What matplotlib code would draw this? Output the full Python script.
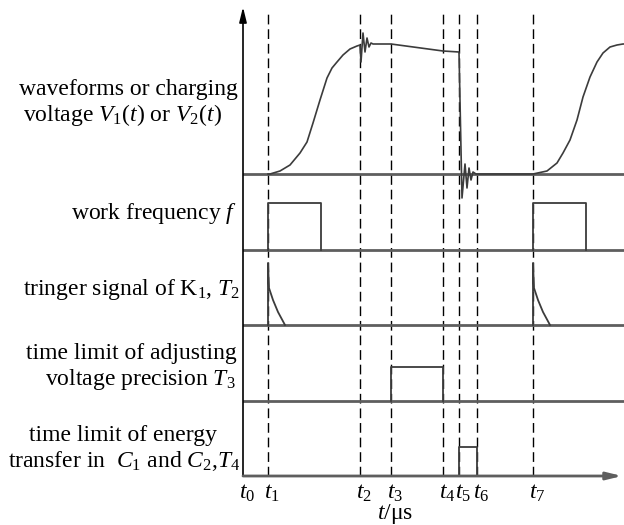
import matplotlib
matplotlib.use("Agg")
import matplotlib.pyplot as plt
import numpy as np

plt.rcParams['font.family'] = ['Liberation Serif', 'DejaVu Serif']
plt.rcParams['mathtext.fontset'] = 'custom'
plt.rcParams['mathtext.rm'] = 'Liberation Serif'
plt.rcParams['mathtext.it'] = 'Liberation Serif:italic'

# time marks t0..t7 (µs, arbitrary scale)
t_marks = [0, 25, 117, 148, 200, 216, 234, 290]
t_labels = [r'$t_0$', r'$t_1$', r'$t_2$', r'$t_3$', r'$t_4$', r'$t_5$', r'$t_6$', r'$t_7$']
t_end = 381

# row baselines (bottom to top)
row_base = [0, 75, 151, 226, 302]

# charging voltage: first rise (relative to t1), ringing at t2, droop, drop at t5, second rise
rise1_dt = [0, 2, 12, 22, 32, 39, 45, 52, 59, 64, 69, 75, 82, 89, 92]
rise1_v = [0, 0, 3, 9, 21, 32, 51, 74, 96, 106, 112, 119, 125, 128, 129]
ring2_t = [117, 118, 120, 122, 124, 126, 128, 130]
ring2_v = [129, 112, 141, 122, 136, 127, 131, 130]
droop_t = [148, 200, 216]
droop_v = [130, 123, 122]
ring5_t = [219, 222, 224, 226, 228, 230, 233]
ring5_v = [-24, 10, -14, 6, -6, 2, 0]
rise2_dt = [0, 14, 24, 30, 37, 44, 50, 57, 64, 70, 77, 84, 90]
rise2_v = [0, 3, 11, 21, 34, 54, 77, 97, 112, 121, 127, 129, 130]

# work frequency pulses
f_start = [25, 290]
f_width = 53
f_amp = 47

# trigger signal decay (relative to its start)
trig_start = [25, 290]
trig_dt = [0, 0, 1, 5, 10, 17]
trig_v = [0, 62, 37, 25, 13, 0]

# T3 and T4 windows
t3_win = (148, 200)
t3_amp = 34
t4_win = (216, 234)
t4_amp = 29

sig_c = '#3c3c3c'
base_c = '#5e5e5e'

fig = plt.figure(figsize=(6.24, 5.25), dpi=100)
ax = fig.add_axes([243 / 624, 49 / 525, 381 / 624, 469 / 525])
ax.set_xlim(0, t_end)
ax.set_ylim(0, 469)
ax.set_axis_off()

# dashed time marks
for tm in t_marks[1:]:
    ax.plot([tm, tm], [0, 466], color='black', lw=1.0, ls=(0, (7, 3.5)))

# baselines
for b in row_base[1:]:
    ax.plot([0, t_end], [b, b], color=base_c, lw=2.0)

# axes arrows
ax.annotate('', xy=(0, 469), xytext=(0, 0),
            arrowprops=dict(arrowstyle='-|>,head_length=0.9,head_width=0.22', color='black', lw=1.2,
                            shrinkA=0, shrinkB=0), annotation_clip=False)
ax.annotate('', xy=(379, 0), xytext=(0, 0),
            arrowprops=dict(arrowstyle='-|>,head_length=0.9,head_width=0.22', color=base_c, lw=2.0,
                            shrinkA=0, shrinkB=0), annotation_clip=False)

# row 1: voltage
b = row_base[4]
vt = ([t_marks[1] + d for d in rise1_dt] + ring2_t + droop_t + ring5_t
      + [t_marks[7]] + [t_marks[7] + d for d in rise2_dt] + [t_end])
vv = (rise1_v + ring2_v + droop_v + ring5_v + [0] + rise2_v + [130])
ax.plot(vt, np.array(vv) + b, color=sig_c, lw=1.2)

# row 2: work frequency
b = row_base[3]
for s in f_start:
    ax.plot([s, s, s + f_width, s + f_width], [b, b + f_amp, b + f_amp, b], color=sig_c, lw=1.3)

# row 3: trigger
b = row_base[2]
for s in trig_start:
    ax.plot([s + d for d in trig_dt], np.array(trig_v) + b, color=sig_c, lw=1.3)

# row 4: T3 window
b = row_base[1]
ax.plot([t3_win[0], t3_win[0], t3_win[1], t3_win[1]], [b, b + t3_amp, b + t3_amp, b], color=sig_c, lw=1.3)

# row 5: T4 window
b = row_base[0]
ax.plot([t4_win[0], t4_win[0], t4_win[1], t4_win[1]], [b, b + t4_amp, b + t4_amp, b], color=sig_c, lw=1.3)

# time labels
for tm, lab in zip(t_marks, t_labels):
    ax.text(tm + 4, -17, lab, ha='center', va='center', fontsize=17)
ax.text(152, -38, r'$t$/μs', ha='center', va='center', fontsize=17)

# row labels (figure pixel coordinates)
row_text = [
    ('waveforms or charging', 128, 89),
    (r'voltage $V_1(t)$ or $V_2(t)$', 123, 115),
    (r'work frequency $f$', 154, 213),
    (r'tringer signal of K$_1$, $T_2$', 132, 290),
    ('time limit of adjusting', 131, 353),
    (r'voltage precision $T_3$', 140, 379),
    ('time limit of energy', 123, 436),
    (r'transfer in  $C_1$ and $C_2$,$T_4$', 124, 461),
]
for txt, x, y in row_text:
    fig.text(x / 624, 1 - y / 525, txt, ha='center', va='center', fontsize=17)

fig.savefig('out.png', dpi=100)
